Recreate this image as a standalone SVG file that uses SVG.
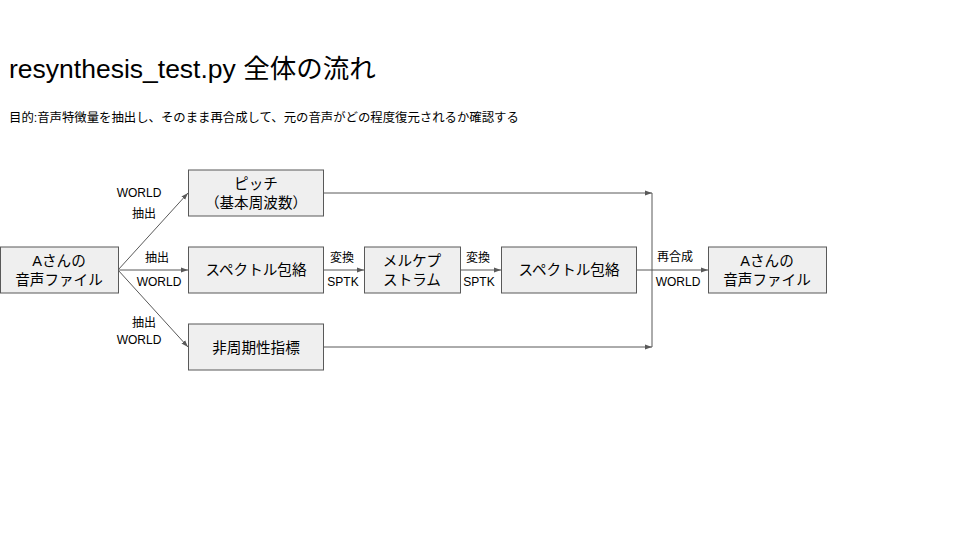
<svg xmlns="http://www.w3.org/2000/svg" width="960" height="540" viewBox="0 0 960 540">
<style>
text{font-family:"Liberation Sans","Noto Sans CJK JP",sans-serif;fill:#000}
.node rect{fill:#efefef;stroke:#595959;stroke-width:1}
.node text{font-size:14.6px;text-anchor:middle}
.lbl{font-size:12px;text-anchor:middle}
.conn path{fill:none;stroke:#595959;stroke-width:1}
</style>
<defs>
<marker id="ar" viewBox="0 0 10 10" refX="10" refY="5" markerWidth="7" markerHeight="7" markerUnits="userSpaceOnUse" orient="auto">
<path d="M0,1.5 L10,5 L0,8.5 Z" fill="#595959"/>
</marker>
</defs>
<rect width="960" height="540" fill="#fff"/>
<text x="9" y="78" font-size="26.5">resynthesis_test.py 全体の流れ</text>
<text x="9" y="122" font-size="12.38">目的:音声特徴量を抽出し、そのまま再合成して、元の音声がどの程度復元されるか確認する</text>
<g class="conn">
<path d="M118,270 L188,193" marker-end="url(#ar)"/>
<path d="M118,270 L188,270" marker-end="url(#ar)"/>
<path d="M118,270 L188,347" marker-end="url(#ar)"/>
<path d="M323,270 L364,270" marker-end="url(#ar)"/>
<path d="M460,270 L501,270" marker-end="url(#ar)"/>
<path d="M323,193 L652,193" marker-end="url(#ar)"/>
<path d="M323,347 L652,347" marker-end="url(#ar)"/>
<path d="M652,193 L652,347"/>
<path d="M636,270 L708,270" marker-end="url(#ar)"/>
</g>
<g id="labels">
<text class="lbl" x="139" y="197">WORLD</text>
<text class="lbl" x="144" y="218">抽出</text>
<text class="lbl" x="157" y="262">抽出</text>
<text class="lbl" x="159" y="286">WORLD</text>
<text class="lbl" x="144" y="327">抽出</text>
<text class="lbl" x="139" y="344">WORLD</text>
<text class="lbl" x="342" y="262">変換</text>
<text class="lbl" x="343" y="286">SPTK</text>
<text class="lbl" x="478" y="262">変換</text>
<text class="lbl" x="479" y="286">SPTK</text>
<text class="lbl" x="675" y="261">再合成</text>
<text class="lbl" x="678" y="286">WORLD</text>
</g>
<g id="n-input" class="node">
<rect x="0.5" y="247" width="118" height="46"/>
<text x="59" y="266">Aさんの</text>
<text x="59" y="285">音声ファイル</text>
</g>
<g id="n-pitch" class="node">
<rect x="188.5" y="170" width="135" height="46"/>
<text x="256" y="189">ピッチ</text>
<text x="256" y="208">（基本周波数）</text>
</g>
<g id="n-spec1" class="node">
<rect x="188.5" y="247" width="135" height="46"/>
<text x="256" y="275">スペクトル包絡</text>
</g>
<g id="n-ap" class="node">
<rect x="188.5" y="324" width="135" height="46"/>
<text x="256" y="353">非周期性指標</text>
</g>
<g id="n-mcep" class="node">
<rect x="364.5" y="247" width="96" height="46"/>
<text x="412" y="266">メルケプ</text>
<text x="412" y="285">ストラム</text>
</g>
<g id="n-spec2" class="node">
<rect x="501.5" y="247" width="135" height="46"/>
<text x="569" y="275">スペクトル包絡</text>
</g>
<g id="n-output" class="node">
<rect x="708.5" y="247" width="118" height="46"/>
<text x="767" y="266">Aさんの</text>
<text x="767" y="285">音声ファイル</text>
</g>
</svg>
